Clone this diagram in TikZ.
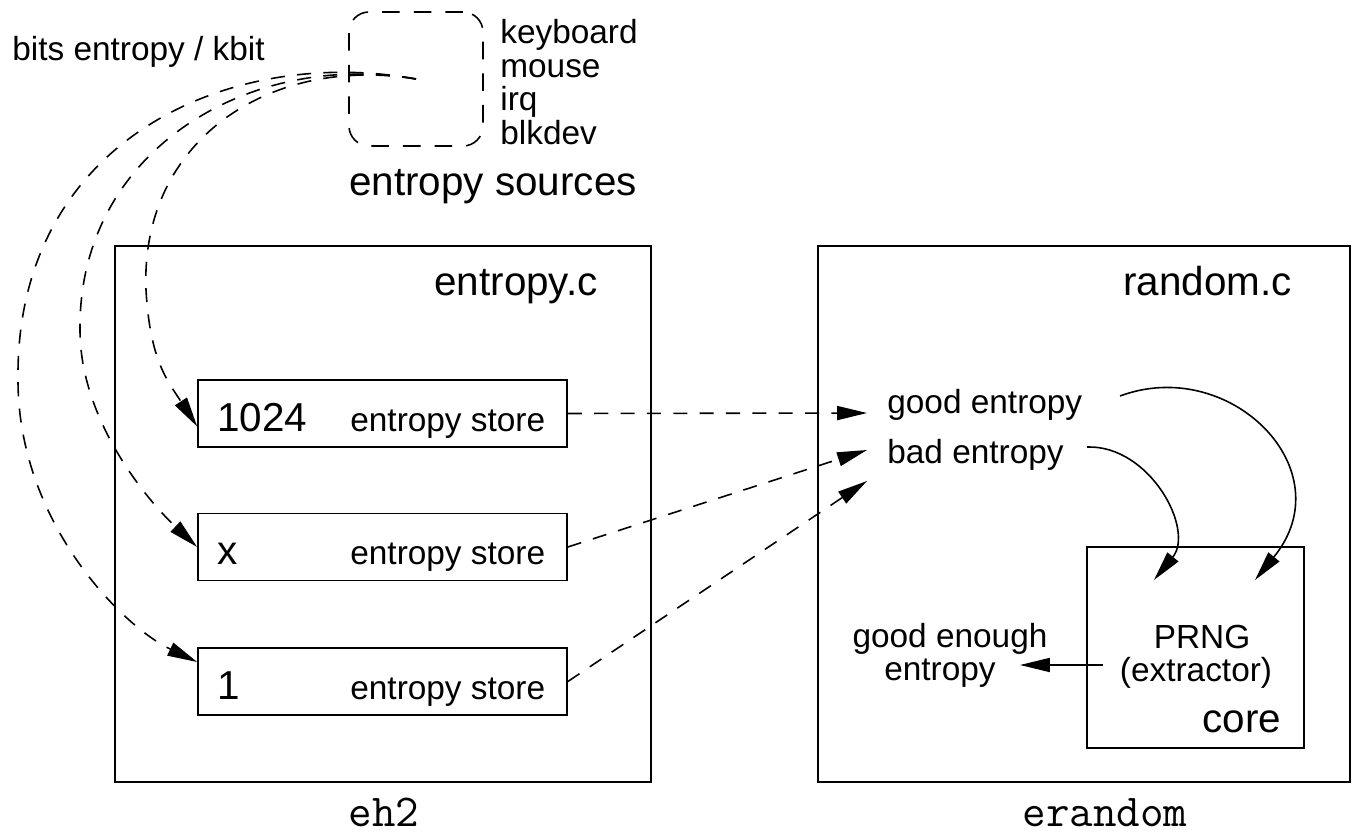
\documentclass[tikz,border=0pt]{standalone}
\usepackage{fontspec}
\setmainfont{Liberation Sans}
\usetikzlibrary{arrows.meta}
\begin{document}
\begin{tikzpicture}[x=0.02cm, y=-0.02cm,
  box/.style={draw, line width=1pt, inner sep=0pt},
  srcbox/.style={draw, line width=0.9pt, dash pattern=on 10pt off 8pt, rounded corners=0.4cm, inner sep=0pt},
  lbl/.style={inner sep=0pt, font=\fontsize{19}{22}\selectfont},
  biglbl/.style={inner sep=0pt, font=\fontsize{23}{27}\selectfont},
  monolbl/.style={inner sep=0pt, font=\ttfamily\fontsize{26}{29}\selectfont},
  arr/.style={-{Triangle[length=17pt,width=8pt]}, line width=0.9pt},
  dsh/.style={dash pattern=on 8pt off 7pt}
]
\useasboundingbox (0,0) rectangle (1352,838);

% boxes
\node[box, minimum width=10.72cm, minimum height=10.72cm] (E) at (383,514) {};
\node[box, minimum width=10.64cm, minimum height=10.72cm] (R) at (1084,514) {};
\node[box, minimum width=7.38cm, minimum height=1.34cm] (s1) at (382.5,413.5) {};
\node[box, minimum width=7.38cm, minimum height=1.34cm] (s2) at (382.5,547) {};
\node[box, minimum width=7.38cm, minimum height=1.34cm] (s3) at (382.5,681.5) {};
\node[box, minimum width=4.34cm, minimum height=4.02cm] (core) at (1195.5,647.5) {};
\node[srcbox, minimum width=2.68cm, minimum height=2.68cm] (src) at (416,79) {};

% texts
\node[lbl, anchor=base west] (bits) at (12,61) {bits entropy / kbit};
\node[lbl, anchor=base west] (kbd) at (500,44) {keyboard};
\node[lbl, anchor=base west] (mouse) at (500,77.5) {mouse};
\node[lbl, anchor=base west] (irq) at (500,111) {irq};
\node[lbl, anchor=base west] (blk) at (500,145) {blkdev};
\node[biglbl, anchor=base west] (srclbl) at (349,195) {entropy sources};

\node[biglbl, anchor=base east] (Elbl) at (598,295) {entropy.c};
\node[biglbl, anchor=base east] (Rlbl) at (1292,295) {random.c};

\node[biglbl, anchor=base west] (n1) at (217,431) {1024};
\node[lbl, anchor=base west] (t1) at (350,431) {entropy store};
\node[biglbl, anchor=base west] (n2) at (217,564.5) {x};
\node[lbl, anchor=base west] (t2) at (350,564.5) {entropy store};
\node[biglbl, anchor=base west] (n3) at (217,699) {1};
\node[lbl, anchor=base west] (t3) at (350,699) {entropy store};

\node[lbl, anchor=base west] (gd) at (887,413) {good entropy};
\node[lbl, anchor=base west] (bd) at (887,463) {bad entropy};

\node[lbl, anchor=base] (prng) at (1202,648) {PRNG};
\node[lbl, anchor=base] (extr) at (1196,681) {(extractor)};
\node[biglbl, anchor=base] (corelbl) at (1242,732) {core};

\node[lbl, anchor=base] (ge1) at (950,647) {good enough};
\node[lbl, anchor=base] (ge2) at (940,680) {entropy};

\node[monolbl, anchor=base] (eh) at (384,826) {eh2};
\node[monolbl, anchor=base] (er) at (1105,826) {erandom};

% free ends
\coordinate (gin) at (867,413);
\coordinate (bin) at (867,450);
\coordinate (bin2) at (867,481);
\coordinate (gdout) at (1120,396);
\coordinate (bdout) at (1087,447);
\coordinate (cin1) at (1154,580);
\coordinate (cin2) at (1255,580);
\coordinate (prngout) at (1103,665);
\coordinate (geIn) at (1020,665);

% dashed curves from sources
\draw[dsh, arr] (src.center) .. controls (230,45) and (15,140) .. (18,380)
   .. controls (18,520) and (120,625) .. (s3.174);
\draw[dsh, arr] (src.center) .. controls (250,50) and (78,150) .. (80,330)
   .. controls (80,420) and (147,500) .. (s2.west);
\draw[dsh, arr] (src.center) .. controls (270,55) and (140,140) .. (146,290)
   .. controls (150,360) and (167,380) .. (s1.184.5);

% store outputs
\draw[dsh, arr] (s1.east) -- (gin);
\draw[dsh, arr] (s2.east) -- (bin);
\draw[dsh, arr] (s3.east) -- (bin2);

% into core
\draw[arr] (gdout) .. controls (1230,355) and (1345,470) .. (cin2);
\draw[arr] (bdout) .. controls (1150,445) and (1195,530) .. (cin1);
\draw[arr] (prngout) -- (geIn);
\end{tikzpicture}
\end{document}
